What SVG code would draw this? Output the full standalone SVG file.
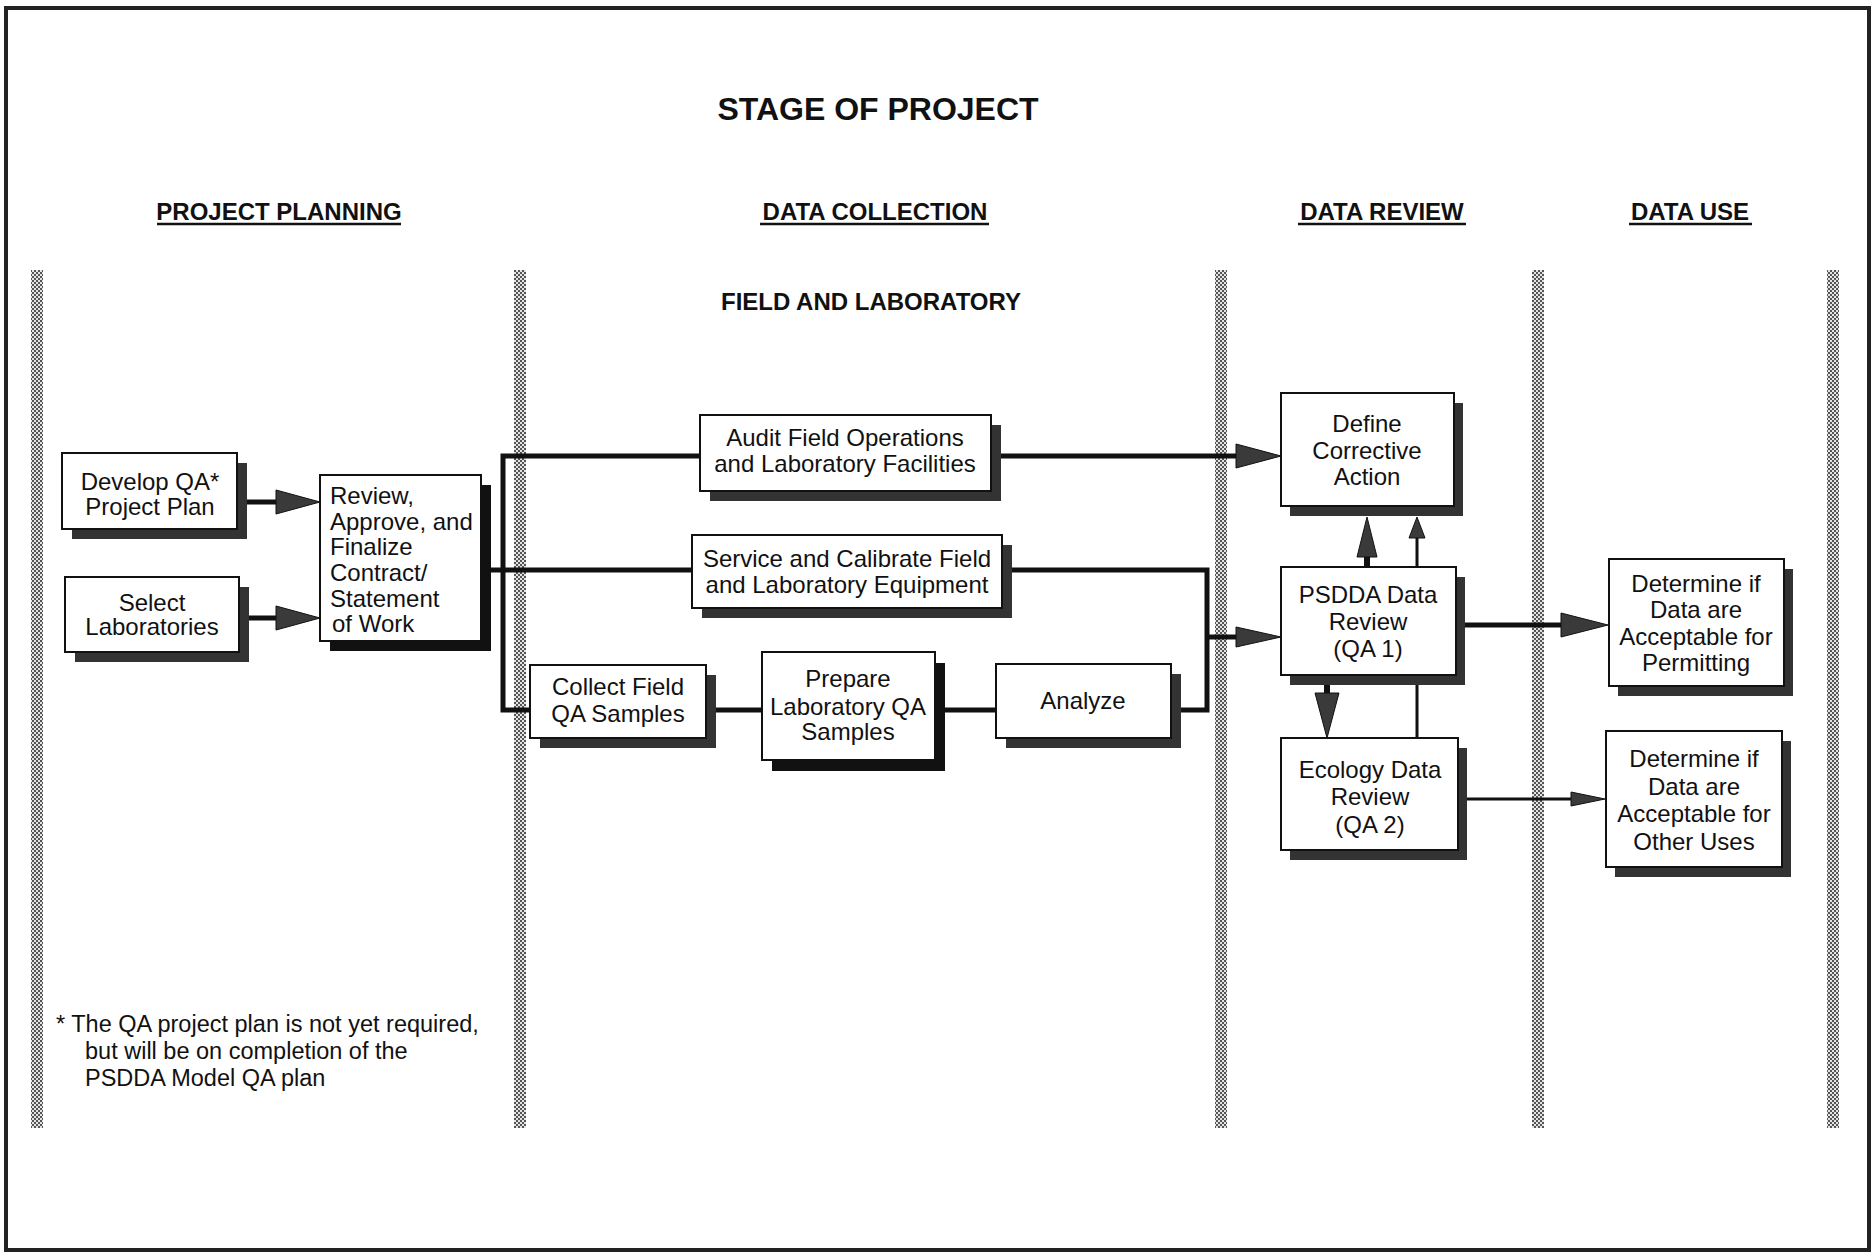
<svg xmlns="http://www.w3.org/2000/svg" width="1875" height="1253" viewBox="0 0 1875 1253">
<defs>
<pattern id="chk" width="4" height="4" patternUnits="userSpaceOnUse">
<rect width="4" height="4" fill="#e4e4e4"/>
<rect width="2" height="2" fill="#555"/>
<rect x="2" y="2" width="2" height="2" fill="#555"/>
</pattern>
</defs>
<style>
text{font-family:"Liberation Sans",Arial,Helvetica,sans-serif;fill:#111}
.t{font-size:24px;text-anchor:middle}
.tl{font-size:24px}
.fn{font-size:23.5px}
.h{font-size:24px;font-weight:bold;text-anchor:middle}
.ttl{font-size:32px;font-weight:bold;text-anchor:middle}
.box{fill:#fff;stroke:#111;stroke-width:2}
.sh{fill:#333}
.shk{fill:#111}
.bar{fill:url(#chk)}
.ln{fill:none;stroke:#111;stroke-width:5}
.lt{fill:none;stroke:#111;stroke-width:3}
.ah{fill:#3a3a3a;stroke:#111;stroke-width:1}
.ul{stroke:#111;stroke-width:2.5}
</style>
<rect x="0" y="0" width="1875" height="1253" fill="#fff"/>
<rect x="6" y="8" width="1863" height="1242" fill="none" stroke="#222" stroke-width="4"/>

<g id="headings">
<text class="ttl" x="878" y="120">STAGE OF PROJECT</text>
<text class="h" x="279" y="220">PROJECT PLANNING</text>
<line class="ul" x1="157" y1="224" x2="401" y2="224"/>
<text class="h" x="875" y="220">DATA COLLECTION</text>
<line class="ul" x1="760" y1="224" x2="989" y2="224"/>
<text class="h" x="1382" y="220">DATA REVIEW</text>
<line class="ul" x1="1298" y1="224" x2="1466" y2="224"/>
<text class="h" x="1690" y="220">DATA USE</text>
<line class="ul" x1="1629" y1="224" x2="1752" y2="224"/>
<text class="h" x="871" y="310">FIELD AND LABORATORY</text>
</g>

<g id="dividers">
<rect class="bar" x="31" y="270" width="12" height="858"/>
<rect class="bar" x="514" y="270" width="12" height="858"/>
<rect class="bar" x="1215" y="270" width="12" height="858"/>
<rect class="bar" x="1532" y="270" width="12" height="858"/>
<rect class="bar" x="1827" y="270" width="12" height="858"/>
</g>

<g id="connectors">
<line class="ln" x1="237" y1="502" x2="278" y2="502"/>
<polygon class="ah" points="276,490 320,502 276,514"/>
<line class="ln" x1="239" y1="618" x2="278" y2="618"/>
<polygon class="ah" points="276,606 320,618 276,630"/>
<line class="ln" x1="481" y1="570" x2="692" y2="570"/>
<polyline class="ln" points="700,456 503,456 503,710 530,710"/>
<line class="ln" x1="991" y1="456" x2="1238" y2="456"/>
<polygon class="ah" points="1236,444 1281,456 1236,468"/>
<line class="ln" x1="706" y1="710" x2="762" y2="710"/>
<line class="ln" x1="935" y1="710" x2="996" y2="710"/>
<polyline class="ln" points="1002,570 1207,570 1207,710 1171,710"/>
<line class="ln" x1="1207" y1="637" x2="1238" y2="637"/>
<polygon class="ah" points="1236,627 1281,637 1236,647"/>
<line class="ln" x1="1367" y1="567" x2="1367" y2="553" style="stroke-width:6"/>
<polygon class="ah" points="1357,557 1367,517 1377,557"/>
<line class="lt" x1="1417" y1="567" x2="1417" y2="536"/>
<polygon class="ah" points="1409,538 1417,517 1425,538"/>
<line class="ln" x1="1327" y1="675" x2="1327" y2="696" style="stroke-width:6"/>
<polygon class="ah" points="1315,693 1327,738 1339,693"/>
<line class="lt" x1="1417" y1="675" x2="1417" y2="738"/>
<line class="ln" x1="1456" y1="625" x2="1563" y2="625"/>
<polygon class="ah" points="1561,613 1608,625 1561,637"/>
<line class="lt" x1="1458" y1="799" x2="1573" y2="799"/>
<polygon class="ah" points="1571,792 1605,799 1571,806"/>
</g>

<g id="develop">
<rect class="sh" x="72" y="463" width="175" height="76"/>
<rect class="box" x="62" y="453" width="175" height="76"/>
<text class="t" x="150" y="490">Develop QA*</text>
<text class="t" x="150" y="515">Project Plan</text>
</g>
<g id="select">
<rect class="sh" x="75" y="587" width="174" height="75"/>
<rect class="box" x="65" y="577" width="174" height="75"/>
<text class="t" x="152" y="611">Select</text>
<text class="t" x="152" y="635">Laboratories</text>
</g>
<g id="review">
<rect class="shk" x="330" y="485" width="161" height="166"/>
<rect class="box" x="320" y="475" width="161" height="166"/>
<text class="tl" x="330" y="504">Review,</text>
<text class="tl" x="330" y="530">Approve, and</text>
<text class="tl" x="330" y="555">Finalize</text>
<text class="tl" x="330" y="581">Contract/</text>
<text class="tl" x="330" y="607">Statement</text>
<text class="tl" x="332" y="632">of Work</text>
</g>
<g id="audit">
<rect class="sh" x="710" y="425" width="291" height="76"/>
<rect class="box" x="700" y="415" width="291" height="76"/>
<text class="t" x="845" y="446">Audit Field Operations</text>
<text class="t" x="845" y="472">and Laboratory Facilities</text>
</g>
<g id="service">
<rect class="sh" x="702" y="545" width="310" height="73"/>
<rect class="box" x="692" y="535" width="310" height="73"/>
<text class="t" x="847" y="567">Service and Calibrate Field</text>
<text class="t" x="847" y="593">and Laboratory Equipment</text>
</g>
<g id="collect">
<rect class="sh" x="540" y="675" width="176" height="73"/>
<rect class="box" x="530" y="665" width="176" height="73"/>
<text class="t" x="618" y="695">Collect Field</text>
<text class="t" x="618" y="722">QA Samples</text>
</g>
<g id="prepare">
<rect class="shk" x="772" y="663" width="173" height="108"/>
<rect class="box" x="762" y="652" width="173" height="108"/>
<text class="t" x="848" y="687">Prepare</text>
<text class="t" x="848" y="715">Laboratory QA</text>
<text class="t" x="848" y="740">Samples</text>
</g>
<g id="analyze">
<rect class="sh" x="1006" y="674" width="175" height="74"/>
<rect class="box" x="996" y="664" width="175" height="74"/>
<text class="t" x="1083" y="709">Analyze</text>
</g>
<g id="define">
<rect class="sh" x="1290" y="403" width="173" height="113"/>
<rect class="box" x="1281" y="393" width="173" height="113"/>
<text class="t" x="1367" y="432">Define</text>
<text class="t" x="1367" y="459">Corrective</text>
<text class="t" x="1367" y="485">Action</text>
</g>
<g id="psdda">
<rect class="sh" x="1290" y="577" width="175" height="108"/>
<rect class="box" x="1281" y="567" width="175" height="108"/>
<text class="t" x="1368" y="603">PSDDA Data</text>
<text class="t" x="1368" y="630">Review</text>
<text class="t" x="1368" y="657">(QA 1)</text>
</g>
<g id="ecology">
<rect class="sh" x="1290" y="748" width="177" height="112"/>
<rect class="box" x="1281" y="738" width="177" height="112"/>
<text class="t" x="1370" y="778">Ecology Data</text>
<text class="t" x="1370" y="805">Review</text>
<text class="t" x="1370" y="833">(QA 2)</text>
</g>
<g id="permitting">
<rect class="sh" x="1618" y="569" width="175" height="127"/>
<rect class="box" x="1609" y="559" width="175" height="127"/>
<text class="t" x="1696" y="592">Determine if</text>
<text class="t" x="1696" y="618">Data are</text>
<text class="t" x="1696" y="645">Acceptable for</text>
<text class="t" x="1696" y="671">Permitting</text>
</g>
<g id="otheruses">
<rect class="sh" x="1615" y="741" width="176" height="136"/>
<rect class="box" x="1606" y="731" width="176" height="136"/>
<text class="t" x="1694" y="767">Determine if</text>
<text class="t" x="1694" y="795">Data are</text>
<text class="t" x="1694" y="822">Acceptable for</text>
<text class="t" x="1694" y="850">Other Uses</text>
</g>

<g id="footnote">
<text class="fn" x="56" y="1032">* The QA project plan is not yet required,</text>
<text class="fn" x="85" y="1059">but will be on completion of the</text>
<text class="fn" x="85" y="1086">PSDDA Model QA plan</text>
</g>
</svg>
